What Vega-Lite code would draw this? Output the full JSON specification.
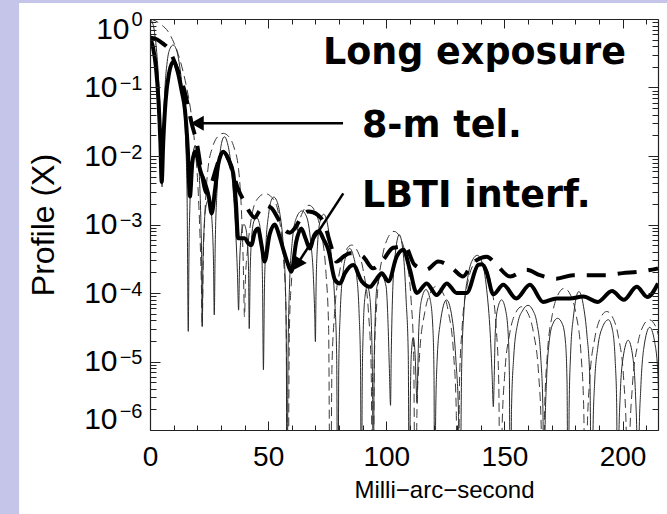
{
"$schema": "https://vega.github.io/schema/vega-lite/v6.json",
"width": 508, "height": 411,
"autosize": {"type": "none"},
"padding": {"left": 150, "top": 19, "right": 9, "bottom": 84},
"background": "#c5c5ea",
"config": {"view": {"stroke": null}, "axis": {"grid": false, "domainColor": "#222", "tickColor": "#222", "domainWidth": 1.2, "tickWidth": 1, "labelFont": "Liberation Sans", "titleFont": "Liberation Sans", "labelColor": "#000"}},
"resolve": {"axis": {"x": "independent", "y": "independent"}},
"datasets": {
"ts": [{"x":0,"y":0.525},{"x":1.2,"y":0.398},{"x":2.5,"y":0.2},{"x":3.6,"y":0.0631},{"x":4.4,"y":0.0158},{"x":4.95,"y":0.00417},{"x":5.6,"y":0.0158},{"x":6.6,"y":0.0631},{"x":8,"y":0.158},{"x":9.9,"y":0.24},{"x":11.8,"y":0.166},{"x":13.4,"y":0.0891},{"x":14.8,"y":0.0468},{"x":16,"y":0.0126},{"x":16.9,"y":0.00257},{"x":17.9,"y":0.00794},{"x":19,"y":0.0115},{"x":20.1,"y":0.00933},{"x":21.2,"y":0.00631},{"x":23.3,"y":0.00398},{"x":24.9,"y":0.00251},{"x":26.1,"y":0.00145},{"x":27.5,"y":0.00316},{"x":29,"y":0.00794},{"x":31,"y":0.0115},{"x":33.2,"y":0.00891},{"x":35.2,"y":0.00562},{"x":36.4,"y":0.002},{"x":37.3,"y":0.000631},{"x":38.6,"y":0.000631},{"x":40.1,"y":0.000631},{"x":41.5,"y":0.000537},{"x":42.9,"y":0.000501},{"x":44.3,"y":0.000759},{"x":45.7,"y":0.000871},{"x":47.2,"y":0.000501},{"x":48.5,"y":0.000288},{"x":50.6,"y":0.000708},{"x":52.8,"y":0.001},{"x":54.6,"y":0.000708},{"x":56.3,"y":0.000447},{"x":58.1,"y":0.000282},{"x":59.8,"y":0.000204},{"x":61.9,"y":0.000562},{"x":64,"y":0.000871},{"x":65.8,"y":0.000631},{"x":67.6,"y":0.000447},{"x":69.6,"y":0.000708},{"x":71.5,"y":0.000794},{"x":73.5,"y":0.000603},{"x":75.5,"y":0.000427},{"x":78.3,"y":0.000155},{"x":80.4,"y":0.000138},{"x":82.5,"y":0.000195},{"x":86,"y":0.000257},{"x":89.6,"y":0.000148},{"x":93.1,"y":0.000123},{"x":95.2,"y":0.000148},{"x":98.1,"y":0.000195},{"x":100.9,"y":0.000148},{"x":104.4,"y":0.000339},{"x":107.2,"y":0.000427},{"x":110,"y":0.000219},{"x":112.9,"y":0.0001},{"x":117.1,"y":0.000138},{"x":121.3,"y":0.0000933},{"x":125.6,"y":0.000138},{"x":129.8,"y":0.0001},{"x":134,"y":0.0001},{"x":138.9,"y":0.000257},{"x":140.5,"y":0.000263},{"x":142.5,"y":0.0002},{"x":145.3,"y":0.0000955},{"x":149.5,"y":0.000132},{"x":155,"y":0.0000832},{"x":160.8,"y":0.000132},{"x":166.4,"y":0.0000741},{"x":172,"y":0.0000832},{"x":177.7,"y":0.0000832},{"x":183.4,"y":0.0000891},{"x":189.5,"y":0.0000741},{"x":195.5,"y":0.000107},{"x":200.5,"y":0.0000794},{"x":206,"y":0.000123},{"x":210.5,"y":0.0000871},{"x":215,"y":0.000138}],
"td": [{"x":0,"y":0.537},{"x":3,"y":0.501},{"x":5.5,"y":0.437},{"x":7.5,"y":0.38},{"x":9.5,"y":0.282},{"x":11.2,"y":0.2},{"x":12.7,"y":0.145},{"x":14.2,"y":0.1},{"x":15.5,"y":0.0661},{"x":17.6,"y":0.0302},{"x":19.8,"y":0.0155},{"x":21.9,"y":0.00562},{"x":24,"y":0.00288},{"x":26,"y":0.00398},{"x":28.2,"y":0.00692},{"x":29.8,"y":0.01},{"x":31.4,"y":0.0112},{"x":33.3,"y":0.00891},{"x":35.3,"y":0.00537},{"x":37.5,"y":0.00316},{"x":40,"y":0.00214},{"x":42.2,"y":0.00151},{"x":44.3,"y":0.00126},{"x":46.3,"y":0.00158},{"x":48.5,"y":0.00191},{"x":51.4,"y":0.00174},{"x":54,"y":0.00126},{"x":57,"y":0.000832},{"x":59.2,"y":0.000759},{"x":61.2,"y":0.000871},{"x":64,"y":0.00126},{"x":66.9,"y":0.00155},{"x":69,"y":0.00151},{"x":71,"y":0.00138},{"x":73.9,"y":0.001},{"x":76.5,"y":0.000501},{"x":79,"y":0.000288},{"x":81.8,"y":0.000339},{"x":84.6,"y":0.00038},{"x":87.4,"y":0.00038},{"x":90.2,"y":0.000339},{"x":94.4,"y":0.000229},{"x":98.6,"y":0.000302},{"x":102.9,"y":0.000457},{"x":107.9,"y":0.000479},{"x":112,"y":0.000257},{"x":117,"y":0.000219},{"x":122,"y":0.000288},{"x":128,"y":0.000229},{"x":132.5,"y":0.000174},{"x":135.5,"y":0.00024},{"x":138.3,"y":0.000302},{"x":142.5,"y":0.000339},{"x":146.7,"y":0.000257},{"x":152.4,"y":0.000174},{"x":159.4,"y":0.000219},{"x":165,"y":0.000182},{"x":172,"y":0.000162},{"x":179,"y":0.000182},{"x":186,"y":0.000182},{"x":193,"y":0.000182},{"x":200,"y":0.000195},{"x":207,"y":0.000204},{"x":215,"y":0.000229}],
"nd": [{"x":0,"y":1},{"x":2.5,"y":0.933},{"x":5,"y":0.813},{"x":7.6,"y":0.661},{"x":9.5,"y":0.501},{"x":11.5,"y":0.339},{"x":13.5,"y":0.2},{"x":15.5,"y":0.1},{"x":17.5,"y":0.0398},{"x":19,"y":0.0141},{"x":20.3,"y":0.00355},{"x":21.2,"y":0.000631},{"x":21.7,"y":0.000158},{"x":22.1,"y":0.0000324},
{"x":22.5,"y":0.000251},{"x":23.3,"y":0.00158},{"x":24.5,"y":0.00631},{"x":26.5,"y":0.0135},{"x":28.6,"y":0.0191},{"x":31,"y":0.0214},{"x":33.4,"y":0.0191},{"x":35.5,"y":0.0135},{"x":37.5,"y":0.00631},{"x":38.7,"y":0.00158},{"x":39.5,"y":0.000251},{"x":40,"y":0.0000447},
{"x":40.4,"y":0.000158},{"x":41.2,"y":0.000398},{"x":42.7,"y":0.00112},{"x":45,"y":0.00224},{"x":48.8,"y":0.00282},{"x":52.6,"y":0.00224},{"x":54.9,"y":0.00112},{"x":56.5,"y":0.000316},{"x":57.6,"y":0.0000501},{"x":58.3,"y":1e-8},
{"x":59,"y":0.0000302},{"x":60.1,"y":0.000191},{"x":62.3,"y":0.000794},{"x":64.6,"y":0.00151},{"x":67.3,"y":0.00191},{"x":70,"y":0.00151},{"x":72.3,"y":0.000794},{"x":74.5,"y":0.000191},{"x":75.6,"y":0.0000302},{"x":76.3,"y":1e-8},
{"x":77,"y":0.00000794},{"x":78.1,"y":0.0000501},{"x":80.3,"y":0.000209},{"x":82.6,"y":0.000398},{"x":85.3,"y":0.000501},{"x":88,"y":0.000398},{"x":90.3,"y":0.000209},{"x":92.5,"y":0.0000501},{"x":93.6,"y":0.00000794},{"x":94.3,"y":1e-8},
{"x":95,"y":0.0000126},{"x":96.1,"y":0.0000794},{"x":98.3,"y":0.000331},{"x":100.6,"y":0.000631},{"x":103.3,"y":0.000794},{"x":106,"y":0.000631},{"x":108.3,"y":0.000331},{"x":110.5,"y":0.0000794},{"x":111.6,"y":0.0000126},{"x":112.3,"y":1e-8},
{"x":113,"y":0.000002},{"x":114.1,"y":0.0000126},{"x":116.3,"y":0.0000525},{"x":118.6,"y":0.0001},{"x":121.3,"y":0.000126},{"x":124,"y":0.0001},{"x":126.3,"y":0.0000525},{"x":128.5,"y":0.0000126},{"x":129.6,"y":0.000002},{"x":130.3,"y":1e-8},
{"x":131,"y":0.00000501},{"x":132.1,"y":0.0000316},{"x":134.3,"y":0.000132},{"x":136.6,"y":0.000251},{"x":139.3,"y":0.000316},{"x":142,"y":0.000251},{"x":144.3,"y":0.000132},{"x":146.5,"y":0.0000316},{"x":147.6,"y":0.00000501},{"x":148.3,"y":1e-8},
{"x":149,"y":0.000001},{"x":150.1,"y":0.00000631},{"x":152.3,"y":0.0000263},{"x":154.6,"y":0.0000501},{"x":157.3,"y":0.0000631},{"x":160,"y":0.0000501},{"x":162.3,"y":0.0000263},{"x":164.5,"y":0.00000631},{"x":165.6,"y":0.000001},{"x":166.3,"y":1e-8},
{"x":167,"y":0.00000186},{"x":168.1,"y":0.0000117},{"x":170.3,"y":0.000049},{"x":172.6,"y":0.0000933},{"x":175.3,"y":0.000117},{"x":178,"y":0.0000933},{"x":180.3,"y":0.000049},{"x":182.5,"y":0.0000117},{"x":183.6,"y":0.00000186},{"x":184.3,"y":1e-8},
{"x":185,"y":8.51e-7},{"x":186.1,"y":0.00000537},{"x":188.3,"y":0.0000224},{"x":190.6,"y":0.0000427},{"x":193.3,"y":0.0000537},{"x":196,"y":0.0000427},{"x":198.3,"y":0.0000224},{"x":200.5,"y":0.00000537},{"x":201.6,"y":8.51e-7},{"x":202.3,"y":1e-8},
{"x":203,"y":6.46e-7},{"x":204.1,"y":0.00000407},{"x":206.3,"y":0.000017},{"x":208.6,"y":0.0000324},{"x":211.3,"y":0.0000407},{"x":214,"y":0.0000324},{"x":216.3,"y":0.000017}],
"ns": [{"x":0,"y":1},{"x":1.3,"y":0.832},{"x":2.3,"y":0.501},{"x":3.4,"y":0.178},{"x":4.2,"y":0.0501},{"x":4.7,"y":0.0126},{"x":5.1,"y":0.00355},
{"x":5.5,"y":0.0158},{"x":6.2,"y":0.0794},{"x":7.3,"y":0.24},{"x":8.5,"y":0.372},{"x":9.8,"y":0.417},{"x":11.2,"y":0.355},{"x":12.6,"y":0.2},{"x":14,"y":0.0708},{"x":15.1,"y":0.0158},{"x":15.7,"y":0.00251},{"x":16.2,"y":0.0000275},
{"x":16.5,"y":0.000398},{"x":16.9,"y":0.002},{"x":17.6,"y":0.00708},{"x":18.4,"y":0.012},{"x":19.2,"y":0.0141},{"x":20.1,"y":0.0112},{"x":20.9,"y":0.00501},{"x":21.5,"y":0.00126},{"x":21.85,"y":0.000316},{"x":22.1,"y":0.0000324},
{"x":22.4,"y":0.000251},{"x":22.9,"y":0.000891},{"x":23.6,"y":0.00178},{"x":24.6,"y":0.00224},{"x":25.6,"y":0.00178},{"x":26.4,"y":0.000891},{"x":26.9,"y":0.000251},{"x":27.2,"y":0.0000479},
{"x":27.6,"y":0.000501},{"x":28.3,"y":0.00282},{"x":29.5,"y":0.01},{"x":30.5,"y":0.0166},{"x":31.5,"y":0.0191},{"x":32.7,"y":0.0158},{"x":34,"y":0.00891},{"x":35.3,"y":0.00282},{"x":36.4,"y":0.000631},{"x":37,"y":0.0002},{"x":37.5,"y":0.0000562},
{"x":37.9,"y":0.000251},{"x":38.5,"y":0.000631},{"x":39.2,"y":0.000933},{"x":39.8,"y":0.001},{"x":40.5,"y":0.000891},{"x":41.2,"y":0.000562},{"x":41.7,"y":0.000224},{"x":42,"y":0.0000302},
{"x":42.4,"y":0.0002},{"x":43,"y":0.000631},{"x":44,"y":0.00112},{"x":45.1,"y":0.00126},{"x":46.2,"y":0.00107},{"x":47.1,"y":0.000501},{"x":47.6,"y":0.000158},{"x":48,"y":0.00000759},
{"x":48.4,"y":0.0001},{"x":49,"y":0.000447},{"x":50.2,"y":0.00141},{"x":51.3,"y":0.00224},{"x":52.4,"y":0.00251},{"x":53.6,"y":0.00224},{"x":55,"y":0.00141},{"x":56.4,"y":0.000501},{"x":57.3,"y":0.000126},{"x":57.7,"y":0.0000158},{"x":58,"y":1e-8},
{"x":58.4,"y":0.00001},{"x":59,"y":0.000112},{"x":60.2,"y":0.000562},{"x":62,"y":0.00126},{"x":64.3,"y":0.00158},{"x":66.4,"y":0.00126},{"x":68,"y":0.000562},{"x":69.2,"y":0.000158},{"x":69.7,"y":0.0000501},{"x":70,"y":0.0000195},
{"x":70.3,"y":0.000126},{"x":70.9,"y":0.000501},{"x":72,"y":0.00112},{"x":73.5,"y":0.00141},{"x":75,"y":0.00107},{"x":76.6,"y":0.000398},{"x":78,"y":0.0001},{"x":79,"y":0.0000126},{"x":79.5,"y":1e-8},
{"x":79.9,"y":0.00000891},{"x":80.5,"y":0.0000501},{"x":81.7,"y":0.0002},{"x":83,"y":0.000355},{"x":84.5,"y":0.000447},{"x":86,"y":0.000355},{"x":87.3,"y":0.0002},{"x":88.5,"y":0.0000501},{"x":89.1,"y":0.00000891},{"x":89.5,"y":1e-8},
{"x":89.8,"y":0.00000398},{"x":90.2,"y":0.0000251},{"x":91,"y":0.0000891},{"x":92,"y":0.000126},{"x":93,"y":0.0000891},{"x":93.8,"y":0.0000251},{"x":94.2,"y":0.00000398},{"x":94.5,"y":1e-8},
{"x":94.8,"y":0.00000501},{"x":95.2,"y":0.0000316},{"x":96.1,"y":0.000126},{"x":98,"y":0.000178},{"x":99.9,"y":0.000126},{"x":100.8,"y":0.0000316},{"x":101.3,"y":0.00000794},{"x":101.8,"y":0.00000229},
{"x":102.1,"y":0.0000126},{"x":102.6,"y":0.0000794},{"x":103.6,"y":0.000316},{"x":105.5,"y":0.000708},{"x":107.4,"y":0.000316},{"x":108.4,"y":0.0000794},{"x":109.3,"y":0.0000126},{"x":109.8,"y":1e-8},
{"x":110.1,"y":0.00000158},{"x":110.6,"y":0.0000126},{"x":111.4,"y":0.0000224},{"x":112.2,"y":0.0000126},{"x":112.7,"y":0.00000398},{"x":113,"y":0.00000251},
{"x":113.3,"y":0.00000631},{"x":113.8,"y":0.0000316},{"x":114.9,"y":0.0000794},{"x":116.8,"y":0.000112},{"x":118.6,"y":0.0000794},{"x":119.7,"y":0.0000316},{"x":120.2,"y":0.00000631},{"x":120.5,"y":1e-8},
{"x":120.9,"y":0.00000158},{"x":121.5,"y":0.00001},{"x":122.8,"y":0.0000355},{"x":125.5,"y":0.0000794},{"x":128.2,"y":0.0000355},{"x":129.5,"y":0.00001},{"x":130.6,"y":0.00000158},{"x":131,"y":1e-8},
{"x":131.9,"y":0.00000794},{"x":132.8,"y":0.0000501},{"x":134.6,"y":0.000178},{"x":136.8,"y":0.000316},{"x":138.5,"y":0.000355},{"x":140.5,"y":0.000282},{"x":142.5,"y":0.000112},{"x":144,"y":0.0000251},{"x":144.8,"y":0.00000631},{"x":145.3,"y":0.00000219},
{"x":145.7,"y":0.00000631},{"x":146.1,"y":0.0000251},{"x":147,"y":0.0000562},{"x":148.8,"y":0.0000794},{"x":150.5,"y":0.0000562},{"x":151.6,"y":0.0000251},{"x":152.1,"y":0.00000631},{"x":152.5,"y":1e-8},
{"x":153,"y":0.000002},{"x":153.9,"y":0.0000112},{"x":155.6,"y":0.0000355},{"x":157.8,"y":0.0000562},{"x":160,"y":0.0000661},{"x":162,"y":0.0000562},{"x":163.8,"y":0.0000355},{"x":165.4,"y":0.0000112},{"x":166.3,"y":0.000002},{"x":166.8,"y":1e-8},
{"x":167.2,"y":0.000001},{"x":167.8,"y":0.00000501},{"x":169,"y":0.00002},{"x":170.5,"y":0.0000355},{"x":172.5,"y":0.0000427},{"x":174.5,"y":0.0000355},{"x":175.8,"y":0.00002},{"x":176.5,"y":0.00000501},{"x":177,"y":1e-8},
{"x":177.4,"y":0.00000224},{"x":178,"y":0.0000126},{"x":179.2,"y":0.0000447},{"x":181.5,"y":0.000105},{"x":183.5,"y":0.0000631},{"x":184.9,"y":0.0000251},{"x":186.2,"y":0.00000501},{"x":187,"y":1e-8},
{"x":187.5,"y":0.000001},{"x":188.2,"y":0.00000501},{"x":189.5,"y":0.0000158},{"x":191.5,"y":0.0000316},{"x":194,"y":0.0000407},{"x":195.8,"y":0.0000282},{"x":196.9,"y":0.00001},{"x":197.5,"y":0.00000251},{"x":198,"y":1e-8},
{"x":198.4,"y":6.31e-7},{"x":199,"y":0.00000316},{"x":200.2,"y":0.0000112},{"x":202.4,"y":0.0000204},{"x":204.4,"y":0.0000112},{"x":205.5,"y":0.00000316},{"x":206.1,"y":6.31e-7},{"x":206.5,"y":1e-8},
{"x":207,"y":7.94e-7},{"x":207.7,"y":0.00000398},{"x":209,"y":0.0000158},{"x":211.5,"y":0.0000316},{"x":213.5,"y":0.00002},{"x":215,"y":0.00000631},{"x":216,"y":1e-8}],
"arrows": [{"g":"a","x":81.7,"y":0.0300},{"g":"a","x":20.5,"y":0.0300},{"g":"b","x":81.8,"y":0.00285},{"g":"b","x":62.2,"y":0.00026}],
"labels": [{"t":"Long exposure","x":73.2,"y":0.22},{"t":"8-m tel.","x":89.7,"y":0.0191},{"t":"LBTI interf.","x":89.7,"y":0.00182}]
},
"layer": [
{"data": {"values": [{}]},
 "mark": {"type": "rect", "fill": "white", "stroke": null, "clip": false},
 "encoding": {
  "x": {"datum": -55.4, "type": "quantitative", "scale": {"domain": [0, 215], "nice": false, "zero": false}, "axis": null},
  "x2": {"datum": 300},
  "y": {"datum": 1.71, "type": "quantitative", "scale": {"type": "log", "domain": [1e-6, 1], "nice": false},
        "axis": {"zindex": 1, "orient": "left", "values": [1], "ticks": false, "domain": false, "labelFontSize": 30, "labelPadding": 21, "labelFlush": true, "labelFlushOffset": 4.5, "labelOverlap": false, "labelExpr": "'10'", "title": null}},
  "y2": {"datum": 1e-9}}},
{"data": {"name": "nd"},
 "mark": {"type": "line", "clip": true, "interpolate": "monotone", "color": "#3a3a3a", "strokeWidth": 1, "strokeDash": [9, 5]},
 "encoding": {
  "x": {"field": "x", "type": "quantitative", "scale": {"domain": [0, 215], "nice": false, "zero": false},
        "axis": {"zindex": 1, "orient": "bottom", "values": [0, 50, 100, 150, 200], "ticks": false, "domain": true, "labelFontSize": 28, "labelPadding": 13, "labelFlush": false, "labelOverlap": false, "title": "Milli−arc−second", "titleFontSize": 24, "titleFontWeight": "normal", "titleColor": "#000", "titleX": 294, "titleY": 67, "titleBaseline": "alphabetic"}},
  "y": {"field": "y", "type": "quantitative", "scale": {"type": "log", "domain": [1e-6, 1], "nice": false},
        "axis": {"zindex": 1, "orient": "left", "values": [1e-6, 1e-5, 1e-4, 1e-3, 1e-2, 1e-1], "ticks": false, "domain": true, "labelFontSize": 30, "labelPadding": 33, "labelFlush": true, "labelFlushOffset": 4.5, "labelOverlap": false, "labelExpr": "'10'", "title": "Profile (X)", "titleFontSize": 32, "titleFontWeight": "normal", "titleColor": "#000", "titleX": -97, "titleBaseline": "alphabetic"}}}},
{"data": {"name": "ns"},
 "mark": {"type": "line", "clip": true, "interpolate": "monotone", "color": "#2a2a2a", "strokeWidth": 1},
 "encoding": {
  "x": {"field": "x", "type": "quantitative", "scale": {"domain": [0, 215], "nice": false, "zero": false},
        "axis": {"zindex": 1, "orient": "bottom", "values": [0, 50, 100, 150, 200], "tickSize": -9, "labels": false, "domain": false, "title": null}},
  "y": {"field": "y", "type": "quantitative", "scale": {"type": "log", "domain": [1e-6, 1], "nice": false},
        "axis": {"zindex": 1, "orient": "left", "values": [1e-6, 1e-5, 1e-4, 1e-3, 1e-2, 1e-1, 1], "tickSize": -10, "labels": false, "domain": false, "title": null}}}},
{"data": {"name": "td"},
 "mark": {"type": "line", "clip": true, "interpolate": "monotone", "color": "#000", "strokeWidth": 4, "strokeDash": [19, 12]},
 "encoding": {
  "x": {"field": "x", "type": "quantitative", "scale": {"domain": [0, 215], "nice": false, "zero": false},
        "axis": {"zindex": 1, "orient": "bottom", "values": [10, 20, 30, 40, 60, 70, 80, 90, 110, 120, 130, 140, 160, 170, 180, 190, 210], "tickSize": -5, "labels": false, "domain": false, "title": null}},
  "y": {"field": "y", "type": "quantitative", "scale": {"type": "log", "domain": [1e-6, 1], "nice": false},
        "axis": {"zindex": 1, "orient": "left", "values": [2e-6,3e-6,4e-6,5e-6,6e-6,7e-6,8e-6,9e-6,2e-5,3e-5,4e-5,5e-5,6e-5,7e-5,8e-5,9e-5,2e-4,3e-4,4e-4,5e-4,6e-4,7e-4,8e-4,9e-4,2e-3,3e-3,4e-3,5e-3,6e-3,7e-3,8e-3,9e-3,0.02,0.03,0.04,0.05,0.06,0.07,0.08,0.09,0.2,0.3,0.4,0.5,0.6,0.7,0.8,0.9], "tickSize": -6, "labels": false, "domain": false, "title": null}}}},
{"data": {"name": "ts"},
 "mark": {"type": "line", "clip": true, "interpolate": "monotone", "color": "#000", "strokeWidth": 4},
 "encoding": {
  "x": {"field": "x", "type": "quantitative", "scale": {"domain": [0, 215], "nice": false, "zero": false},
        "axis": {"zindex": 1, "orient": "top", "values": [0, 50, 100, 150, 200], "tickSize": -9, "labels": false, "domain": true, "title": null}},
  "y": {"field": "y", "type": "quantitative", "scale": {"type": "log", "domain": [1e-6, 1], "nice": false},
        "axis": {"zindex": 1, "orient": "right", "values": [1e-6, 1e-5, 1e-4, 1e-3, 1e-2, 1e-1, 1], "tickSize": -10, "labels": false, "domain": true, "title": null}}}},
{"data": {"name": "arrows"},
 "mark": {"type": "line", "color": "#000", "strokeWidth": 2.5},
 "encoding": {
  "detail": {"field": "g"},
  "x": {"field": "x", "type": "quantitative", "scale": {"domain": [0, 215], "nice": false, "zero": false},
        "axis": {"zindex": 1, "orient": "top", "values": [10, 20, 30, 40, 60, 70, 80, 90, 110, 120, 130, 140, 160, 170, 180, 190, 210], "tickSize": -5, "labels": false, "domain": false, "title": null}},
  "y": {"field": "y", "type": "quantitative", "scale": {"type": "log", "domain": [1e-6, 1], "nice": false},
        "axis": {"zindex": 1, "orient": "right", "values": [2e-6,3e-6,4e-6,5e-6,6e-6,7e-6,8e-6,9e-6,2e-5,3e-5,4e-5,5e-5,6e-5,7e-5,8e-5,9e-5,2e-4,3e-4,4e-4,5e-4,6e-4,7e-4,8e-4,9e-4,2e-3,3e-3,4e-3,5e-3,6e-3,7e-3,8e-3,9e-3,0.02,0.03,0.04,0.05,0.06,0.07,0.08,0.09,0.2,0.3,0.4,0.5,0.6,0.7,0.8,0.9], "tickSize": -6, "labels": false, "domain": false, "title": null}}}},
{"data": {"values": [{"x": 20.0, "y": 0.030}]},
 "mark": {"type": "point", "shape": "triangle-left", "size": 225, "filled": true, "color": "#000", "opacity": 1},
 "encoding": {
  "x": {"field": "x", "type": "quantitative", "scale": {"domain": [0, 215], "nice": false, "zero": false}, "axis": null},
  "y": {"field": "y", "type": "quantitative", "scale": {"type": "log", "domain": [1e-6, 1], "nice": false},
        "axis": {"zindex": 1, "orient": "left", "values": [1e-5, 1e-4, 1e-3, 1e-2, 1e-1], "ticks": false, "domain": false, "labelFontSize": 20, "labelPadding": 8, "labelFlush": false, "labelOverlap": false, "labelOffset": -4, "labelExpr": "['0','−1','−2','−3','−4','−5','−6'][round(-log(datum.value)/LN10)]", "title": null}}}},
{"data": {"values": [{"x": 62.2, "y": 0.00026}]},
 "mark": {"type": "point", "shape": "triangle-right", "angle": 122, "size": 225, "filled": true, "color": "#000", "opacity": 1},
 "encoding": {
  "x": {"field": "x", "type": "quantitative", "scale": {"domain": [0, 215], "nice": false, "zero": false}, "axis": null},
  "y": {"field": "y", "type": "quantitative", "scale": {"type": "log", "domain": [1e-6, 1], "nice": false},
        "axis": {"zindex": 1, "orient": "left", "values": [1], "ticks": false, "domain": false, "labelFontSize": 20, "labelPadding": 8, "labelFlush": false, "labelOverlap": false, "labelOffset": 0, "labelExpr": "'0'", "title": null}}}},
{"data": {"name": "labels"},
 "mark": {"type": "text", "align": "left", "baseline": "alphabetic", "font": "DejaVu Sans", "fontWeight": "bold", "fontSize": 36.5, "color": "#000"},
 "encoding": {
  "text": {"field": "t"},
  "x": {"field": "x", "type": "quantitative", "scale": {"domain": [0, 215], "nice": false, "zero": false}, "axis": null},
  "y": {"field": "y", "type": "quantitative", "scale": {"type": "log", "domain": [1e-6, 1], "nice": false},
        "axis": {"zindex": 1, "orient": "left", "values": [1e-6], "ticks": false, "domain": false, "labelFontSize": 20, "labelPadding": 8, "labelFlush": false, "labelOverlap": false, "labelOffset": -19, "labelExpr": "'−6'", "title": null}}}}
]
}
